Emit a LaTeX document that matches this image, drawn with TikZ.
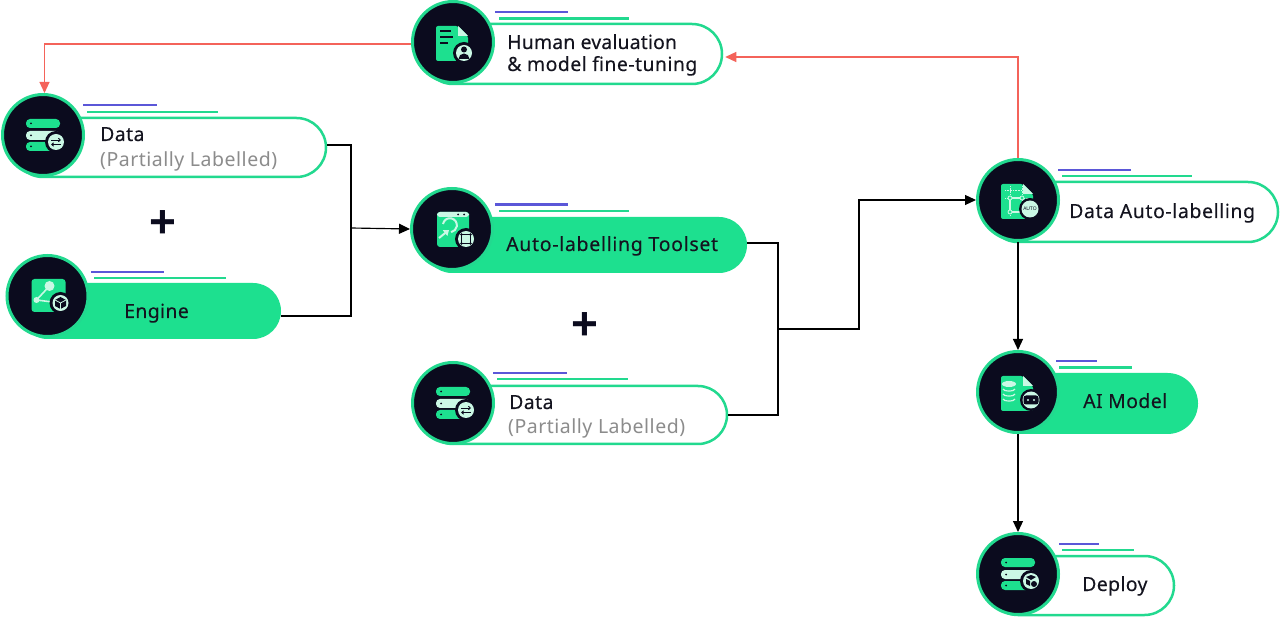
\documentclass[tikz,border=0pt]{standalone}
\usepackage{fontspec}
\setmainfont{Noto Sans}
\newfontfamily\plusfont{Liberation Sans}
\usetikzlibrary{arrows.meta,shapes.misc}
\definecolor{ink}{HTML}{0B0B1E}
\definecolor{gr}{HTML}{1DE08F}
\definecolor{grl}{HTML}{22D98F}
\definecolor{mint}{HTML}{CBF8E5}
\definecolor{blu}{HTML}{5B57D8}
\definecolor{rd}{HTML}{F4635A}
\definecolor{txt}{HTML}{14141F}
\definecolor{gry}{HTML}{8C8C8C}
\tikzset{
  hub/.style={circle,draw=grl,line width=3pt,fill=ink,inner sep=0pt,minimum size=81pt},
  pillopen/.style={rounded rectangle,draw=grl,line width=2.5pt,fill=white,inner sep=0pt},
  pillfull/.style={rounded rectangle,draw=none,fill=gr,inner sep=0pt},
  lab/.style={anchor=base west,inner sep=0pt,text=txt,font=\fontsize{19.5}{22}\selectfont\addfontfeatures{LetterSpace=#1,FakeBold=0.12}},
  lab/.default=2,
  sub/.style={anchor=base west,inner sep=0pt,text=gry,font=\fontsize{19.5}{22}\selectfont\addfontfeatures{LetterSpace=2.6}},
  conn/.style={draw=black,line width=1.15pt},
  connr/.style={draw=rd,line width=1.15pt},
  tip/.style={-{Triangle[length=11pt,width=10pt]}},
  accb/.style={draw=blu,line width=2.2pt},
  accg/.style={draw=grl,line width=2.2pt},
  plusmark/.style={inner sep=0pt,text=ink,font=\fontsize{46}{46}\selectfont\plusfont\bfseries},
}
% #1 name, #2 cx, #3 cy, #4 right, #5 top, #6 bottom, #7 style
\newcommand\card[7]{%
  \pgfmathsetmacro\cardh{#6-#5}%
  \pgfmathsetmacro\cardl{#2-\cardh/2}%
  \pgfmathsetmacro\cardw{#4-\cardl}%
  \pgfmathsetmacro\cardx{(\cardl+#4)/2}%
  \pgfmathsetmacro\cardy{(#5+#6)/2}%
  \node[#7,minimum width=\cardw pt,minimum height=\cardh pt] (#1) at (\cardx,\cardy) {};
  \node[hub] (#1c) at (#2,#3) {};
}
% blue x1 x2 y, green x1 x2 y
\newcommand\accents[6]{%
  \draw[accb] (#1,#3) -- (#2,#3);
  \draw[accg] (#4,#6) -- (#5,#6);
}
\newcommand\badge[2]{%
  \fill[ink] (#1,#2) circle (11pt);
  \fill[mint] (#1,#2) circle (8pt);
}
\newcommand\servericon{%
  \fill[gr,rounded corners=4pt] (-17,-16) rectangle (17,-7);
  \fill[mint,rounded corners=4pt] (-17,-4) rectangle (17,5);
  \fill[gr,rounded corners=4pt] (-17,7) rectangle (17,16);
  \fill[ink] (-12,-11.5) circle (1pt) (-12,0.5) circle (1pt) (-12,11.5) circle (1pt);
}
\newcommand\swaparrows[2]{%
  \begin{scope}[shift={(#1,#2)}]
    \draw[ink,line width=.9pt,-{Straight Barb[length=2pt,width=3.5pt]}] (-5,-2) -- (5,-2);
    \draw[ink,line width=.9pt,-{Straight Barb[length=2pt,width=3.5pt]}] (5,2.5) -- (-5,2.5);
  \end{scope}
}
\newcommand\docicon{%
  \fill[gr,rounded corners=2pt] (-17,-16) -- (5,-16) -- (15,-6) -- (15,19) -- (-17,19) -- cycle;
  \fill[mint] (5,-16) -- (15,-6) -- (5,-6) -- cycle;
}
\begin{document}
\begin{tikzpicture}[x=1pt,y=-1pt]
\useasboundingbox (0,0) rectangle (1280,617);
\fill[white] (0,0) rectangle (1280,617);

\card{data}{43}{135}{326}{118}{177}{pillopen}
\card{engine}{47.5}{296}{281}{283}{339}{pillfull}
\card{human}{453}{42}{722}{24}{84}{pillopen}
\card{tool}{452}{229}{747}{217}{273}{pillfull}
\card{datb}{453}{403}{727}{386}{444}{pillopen}
\card{auto}{1018}{200}{1278}{182}{242}{pillopen}
\card{model}{1018}{392}{1198}{373}{434}{pillfull}
\card{deploy}{1018}{574}{1174}{556}{615}{pillopen}

\accents{83}{157}{105}{87}{218}{112}
\accents{91}{164}{272}{94}{226}{278}
\accents{495}{568}{12}{499}{629}{18.5}
\accents{495}{568}{204.5}{499}{629}{211}
\accents{493}{567}{373}{497}{628}{379}
\accents{1058}{1131}{170}{1062}{1192}{176}
\accents{1056}{1097}{361}{1059}{1132}{367.5}
\accents{1059}{1099}{544}{1062}{1134}{550}

% icons
\begin{scope}[shift={(43,135)}]
  \servericon \badge{13}{7} \swaparrows{13}{7}
\end{scope}
\begin{scope}[shift={(453,403)}]
  \servericon \badge{13}{7} \swaparrows{13}{7}
\end{scope}
\begin{scope}[shift={(1018,574)}]
  \servericon \badge{13}{7}
  \fill[ink] (8,3) -- (13,1) -- (18,3) -- (13,6) -- cycle;
  \fill[ink] (8,5) -- (12,7) -- (12,12) -- (8,10) -- cycle;
  \fill[ink] (16,10) circle (3pt);
\end{scope}
\begin{scope}[shift={(47.5,296)}]
  \fill[gr,rounded corners=3pt] (-16,-17) rectangle (18,16);
  \draw[mint,line width=1.6pt] (2,-10) -- (-11,4);
  \fill[mint] (2,-10) circle (5pt) (-11,4) circle (3pt);
  \draw[mint,line width=1.6pt] (-11,4) -- (5,6);
  \fill[ink] (13,7) circle (11pt);
  \fill[mint] (13,7) circle (8pt);
  \fill[ink] (7.5,4) -- (13,1) -- (18.5,4) -- (18.5,10) -- (13,13) -- (7.5,10) -- cycle;
  \draw[mint,line width=.8pt] (7.5,4) -- (13,7) -- (18.5,4) (13,7) -- (13,13);
\end{scope}
\begin{scope}[shift={(453,42)}]
  \docicon
  \draw[ink,line width=1.5pt] (-13,-11) -- (-2,-11) (-13,-5) -- (0,-5) (-13,1) -- (-5,1);
  \badge{11}{11}
  \fill[ink] (11,7.5) circle (3pt);
  \fill[ink] (5.5,17) arc[start angle=180,end angle=0,radius=5.5pt] -- cycle;
\end{scope}
\begin{scope}[shift={(452,229)}]
  \fill[gr,rounded corners=3pt] (-15,-17) rectangle (17,18);
  \fill[mint,rounded corners=3pt] (-15,-17) rectangle (17,-12);
  \fill[ink] (6,-14.5) circle (1pt) (12,-14.5) circle (1pt);
  \draw[mint,line width=2pt] (-9,-5) arc[start angle=170,end angle=-80,radius=7pt];
  \draw[mint,line width=2pt,-{Triangle[length=5pt,width=7pt]}] (-13,9) -- (-3,1);
  \badge{14}{10}
  \draw[ink,line width=1pt] (9.5,5.5) rectangle (18.5,14.5);
  \fill[ink] (9.5,5.5) circle (1.3pt) (18.5,5.5) circle (1.3pt) (9.5,14.5) circle (1.3pt) (18.5,14.5) circle (1.3pt);
\end{scope}
\begin{scope}[shift={(1018,200)}]
  \docicon
  \draw[mint,line width=.6pt,densely dotted] (-13,-10) -- (5,-10) (-13,-2) -- (10,-2) (-8,-14) -- (-8,16) (4,-14) -- (4,16);
  \draw[mint,line width=1.1pt] (-8,-2) -- (4,-2) (-8,-2) -- (-8,12) -- (3,12);
  \draw[mint,line width=.8pt,fill=gr] (-8,-2) circle (2pt) (4,-2) circle (2pt) (-8,12) circle (2pt);
  \fill[ink] (12,9) circle (11pt);
  \fill[mint] (12,9) circle (8.5pt);
  \node[inner sep=0pt,text=ink,font=\fontsize{5}{5}\selectfont\bfseries] (autotag) at (12,9) {AUTO};
\end{scope}
\begin{scope}[shift={(1018,392)}]
  \docicon
  \fill[mint] (-9,-8) ellipse (7pt and 3pt);
  \draw[mint,line width=1.2pt] (-15,-3) arc[start angle=180,end angle=360,x radius=6pt,y radius=2pt];
  \draw[mint,line width=1.2pt] (-15,2) arc[start angle=180,end angle=360,x radius=6pt,y radius=2pt];
  \draw[mint,line width=1.2pt] (-15,7) arc[start angle=180,end angle=360,x radius=6pt,y radius=2pt];
  \fill[ink] (13,8) circle (11pt);
  \fill[mint] (13,8) circle (8.5pt);
  \fill[ink,rounded corners=2.5pt] (5.5,3.5) rectangle (20.5,12.5);
  \fill[mint] (10,8) circle (1.2pt) (16,8) circle (1.2pt);
\end{scope}

% labels
\node[lab=2] (t1) at (100,141) {Data};
\node[sub] (t2) at (100,166.5) {(Partially Labelled)};
\node[lab=1.7] (t3) at (124,318) {Engine};
\node[lab=0.6] (t4) at (507,49) {Human evaluation};
\node[lab=2.2] (t5) at (507,71) {\& model fine-tuning};
\node[lab=3.5] (t6) at (506,251) {Auto-labelling Toolset};
\node[lab=2] (t7) at (509,409) {Data};
\node[sub] (t8) at (508,434) {(Partially Labelled)};
\node[lab=3] (t9) at (1069,218) {Data Auto-labelling};
\node[lab=2] (t10) at (1083,408) {AI Model};
\node[lab=1.7] (t11) at (1082,591) {Deploy};
\node[plusmark] (p1) at (162.5,224) {+};
\node[plusmark] (p2) at (584.5,326.5) {+};

% connectors
\coordinate (j1) at (351,228);
\coordinate (j2) at (778,329);
\coordinate (j3) at (859,329);
\draw[conn] ([yshift=2.5pt]data.east) -| (j1) |- ([yshift=-5pt]engine.east);
\draw[conn,tip] (j1) -- (toolc.west);
\draw[conn] ([yshift=2pt]tool.east) -| (j2) |- ([yshift=0pt]datb.east);
\draw[conn,tip] (j2) -- (j3) |- (autoc.west);
\draw[conn,tip] (autoc.south) -- (modelc.north);
\draw[conn,tip] (modelc.south) -- (deployc.north);
\draw[connr,tip] (autoc.north) |- ([xshift=2pt,yshift=-3pt]human.east);
\draw[connr,tip] ([yshift=-2pt]humanc.west) -| ([xshift=1.5pt]datac.north);
\end{tikzpicture}
\end{document}
